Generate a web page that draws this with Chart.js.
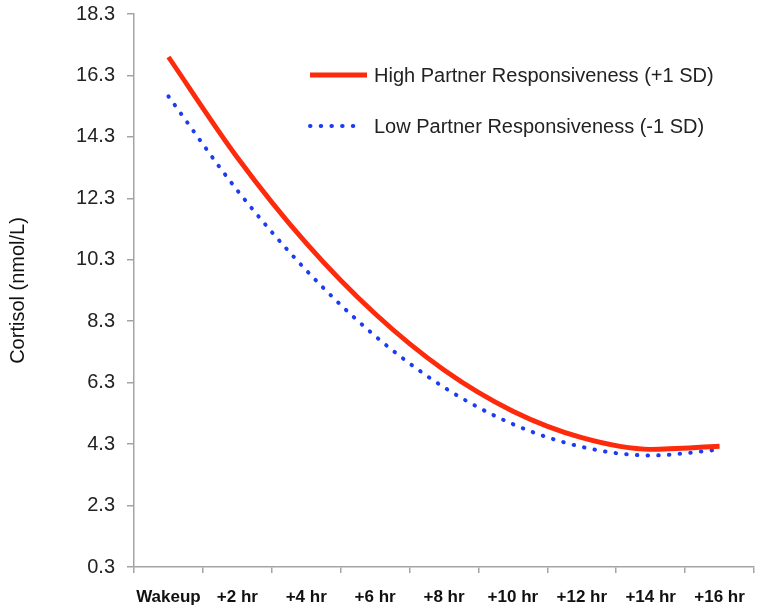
<!DOCTYPE html>
<html>
<head>
<meta charset="utf-8">
<script src="https://cdn.jsdelivr.net/npm/chart.js@4"></script>
<style>
  html, body { margin: 0; padding: 0; background: #fff; }
  #wrap { width: 764px; height: 610px; }
</style>
</head>
<body>
<div id="wrap"><canvas id="cortisolChart" width="764" height="610"></canvas></div>
<script>
const categories = ['Wakeup', '+2 hr', '+4 hr', '+6 hr', '+8 hr', '+10 hr', '+12 hr', '+14 hr', '+16 hr'];
const highResp = [16.90, 13.63, 10.84, 8.54, 6.71, 5.37, 4.51, 4.13, 4.23];
const lowResp = [15.62, 12.56, 9.96, 7.82, 6.15, 4.95, 4.21, 3.93, 4.12];
const yTicks = [0.3, 2.3, 4.3, 6.3, 8.3, 10.3, 12.3, 14.3, 16.3, 18.3];

const RED = '#fd2a0c';
const BLUE = '#1d3cf2';
const AXIS = '#a4a4a4';

// legend drawn inside the plot, top right
const insideLegend = {
  id: 'insideLegend',
  afterDraw(chart) {
    const ctx = chart.ctx;
    const rows = [
      { ds: chart.data.datasets[0], y: 75 },
      { ds: chart.data.datasets[1], y: 126 }
    ];
    ctx.save();
    rows.forEach(r => {
      ctx.beginPath();
      ctx.strokeStyle = r.ds.borderColor;
      ctx.lineWidth = r.ds.borderWidth;
      ctx.lineCap = r.ds.borderCapStyle || 'butt';
      ctx.setLineDash(r.ds.borderDash || []);
      ctx.moveTo(310, r.y);
      ctx.lineTo(r.ds.borderDash ? 362 : 367, r.y);
      ctx.stroke();
      ctx.setLineDash([]);
      ctx.fillStyle = '#222';
      ctx.font = '20px "Liberation Sans", Arial, sans-serif';
      ctx.textBaseline = 'middle';
      ctx.fillText(r.ds.label, 374, r.y + 1);
    });
    ctx.restore();
  }
};

function createChart() {
  const ctx = document.getElementById('cortisolChart').getContext('2d');
  return new Chart(ctx, {
    type: 'line',
    data: {
      labels: categories,
      datasets: [
        { label: 'High Partner Responsiveness (+1 SD)', data: highResp, borderColor: RED, borderWidth: 4.8,
          pointRadius: 0, fill: false, cubicInterpolationMode: 'monotone', borderCapStyle: 'butt' },
        { label: 'Low Partner Responsiveness (-1 SD)', data: lowResp, borderColor: BLUE, borderWidth: 4,
          pointRadius: 0, fill: false, cubicInterpolationMode: 'monotone', borderDash: [0.5, 10.2], borderCapStyle: 'round' }
      ]
    },
    options: {
      responsive: false,
      animation: false,
      layout: { padding: { top: 14, right: 10, left: 0, bottom: 0 } },
      plugins: { legend: { display: false }, tooltip: { enabled: false } },
      scales: {
        x: {
          type: 'category',
          offset: true,
          grid: { display: true, drawOnChartArea: false, offset: true, tickLength: 6, color: AXIS, lineWidth: 1.5 },
          border: { color: AXIS, width: 1.5 },
          ticks: { color: '#111', font: { family: '"Liberation Sans", Arial, sans-serif', size: 17, weight: 'bold' },
                   padding: 14, maxRotation: 0, autoSkip: false },
          afterFit(scale) { scale.height = 43; }
        },
        y: {
          min: 0.3, max: 18.3,
          afterBuildTicks(scale) { scale.ticks = yTicks.map(v => ({ value: v })); },
          grid: { display: true, drawOnChartArea: false, tickLength: 7, color: AXIS, lineWidth: 1.5 },
          border: { color: AXIS, width: 1.5 },
          ticks: { color: '#222', font: { family: '"Liberation Sans", Arial, sans-serif', size: 20 },
                   padding: 12, callback: v => Number(v).toFixed(1) },
          title: { display: true, text: 'Cortisol (nmol/L)', color: '#111',
                   font: { family: '"Liberation Sans", Arial, sans-serif', size: 20 }, padding: { top: 6, bottom: 0 } },
          afterFit(scale) { scale.width = 134; scale.paddingTop = 0; }
        }
      }
    },
    plugins: [insideLegend]
  });
}

window.addEventListener('DOMContentLoaded', () => {
  window.cortisolChart = createChart();
});
</script>
</body>
</html>
